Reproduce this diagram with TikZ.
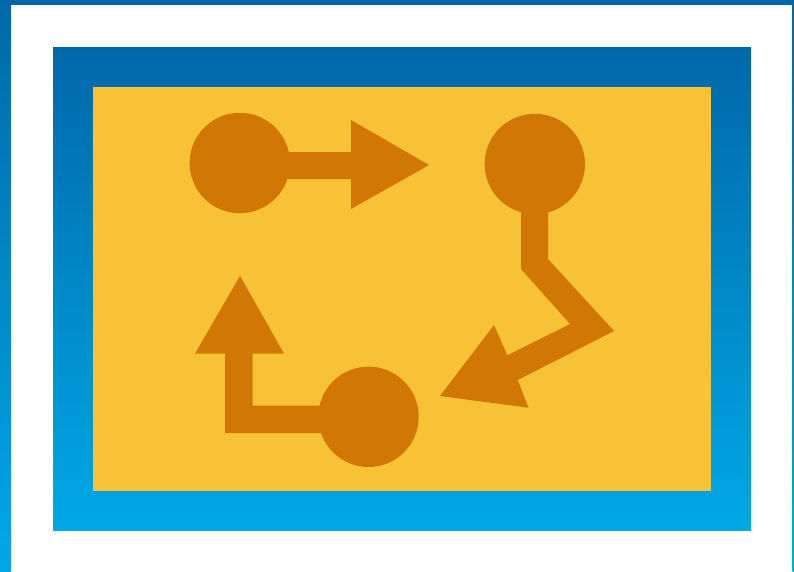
\documentclass[tikz,border=0pt]{standalone}
\definecolor{gradtop}{HTML}{0068A9}
\definecolor{gradbot}{HTML}{00A8E6}
\definecolor{panel}{HTML}{F8C236}
\definecolor{mark}{HTML}{D07705}
\tikzset{
  framefill/.style={top color=gradtop,bottom color=gradbot,draw=none,shading angle=0},
  glyph/.style={fill=mark,draw=none},
}
\begin{document}
\begin{tikzpicture}[x=1pt,y=-1pt]
\useasboundingbox (0,0) rectangle (794,571);
% outer frame
\fill[white] (0,0) rectangle (794,571);
\shade[framefill] (0,0) rectangle (10.5,571);
\shade[framefill] (792.6,0) rectangle (794,571);
\fill[gradtop] (0,0) rectangle (794,5);
% blue band and panel
\begin{scope}
\clip (53,47) rectangle (751,530.6);
\shade[framefill] (52,47) rectangle (752,530.6);
\end{scope}
\fill[panel] (93,87) rectangle (711,491);
% arrow 1
\fill[glyph] (239.8,163) circle[radius=50.2];
\fill[glyph] (280,152) -- (351,152) -- (351,120) -- (429,165) -- (351,209) -- (351,179) -- (280,179) -- cycle;
% arrow 2
\fill[glyph] (534.8,164) circle[radius=50.2];
\fill[glyph] (521,205) -- (548,205) -- (548,259) -- (614,331) -- (517.7,380) -- (528.5,407.7) -- (440,396) -- (494,325) -- (507.3,355.3) -- (570,324) -- (521,269) -- cycle;
% arrow 3
\fill[glyph] (368.5,416.8) circle[radius=50.2];
\fill[glyph] (240,276) -- (284,353.5) -- (252.5,353.5) -- (252.5,405.5) -- (330,405.5) -- (330,433) -- (225,433) -- (225,353.5) -- (195,353.5) -- cycle;
\end{tikzpicture}
\end{document}
